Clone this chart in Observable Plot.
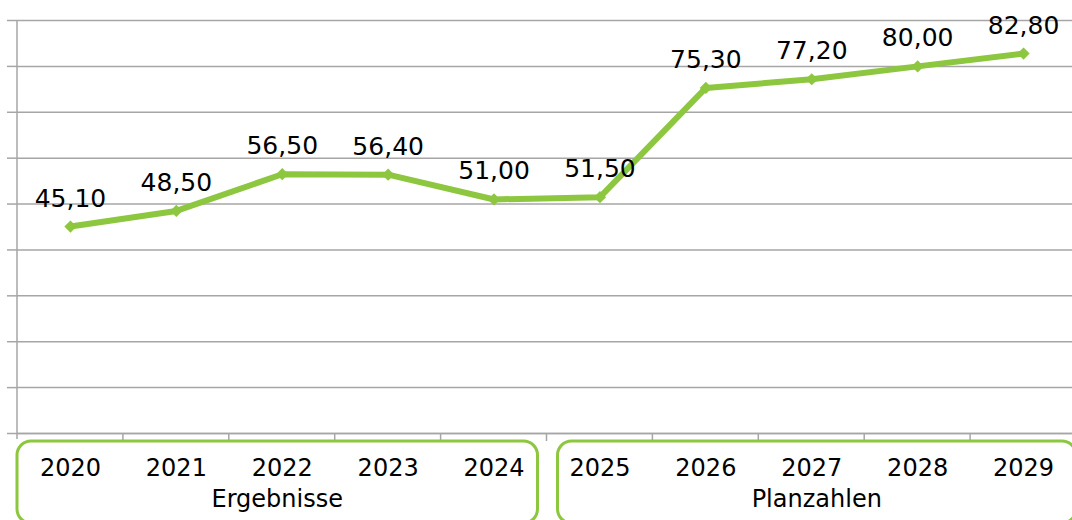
<!DOCTYPE html>
<html>
<head>
<meta charset="utf-8">
<script src="https://cdn.jsdelivr.net/npm/d3@7"></script>
<script src="https://cdn.jsdelivr.net/npm/@observablehq/plot@0.6"></script>
<style>
  html, body { margin: 0; padding: 0; background: #fff; }
  #chart svg { display: block; }
</style>
</head>
<body>
<div id="chart"></div>
<script>
// ---- data ----
const years = ["2020", "2021", "2022", "2023", "2024", "2025", "2026", "2027", "2028", "2029"];
const values = [45.10, 48.50, 56.50, 56.40, 51.00, 51.50, 75.30, 77.20, 80.00, 82.80];
const groupLabels = ["Ergebnisse", "Planzahlen"];
const groupFirst = ["2020", "2025"];
const groupLast = ["2024", "2029"];
const yTicks = [0, 10, 20, 30, 40, 50, 60, 70, 80, 90];

const data = years.map((year, i) => ({year, value: values[i]}));
const fmt = v => v.toFixed(2).replace(".", ",");

const green = "#8DC63F";
const grid = "#a6a6a6";
const font = "'DejaVu Sans', Verdana, sans-serif";

const chart = Plot.plot({
  width: 1072,
  height: 520,
  marginLeft: 17,
  marginRight: -4,
  marginTop: 20,
  marginBottom: 87,
  style: {fontFamily: font, background: "white", overflow: "visible"},
  x: {type: "band", domain: years, padding: 0, round: false, label: null},
  y: {domain: [0, 90], label: null},
  marks: [
    Plot.gridY(yTicks, {stroke: grid, strokeOpacity: 1, strokeWidth: 1.5}),
    Plot.axisY(yTicks, {tickSize: 10, tickFormat: () => "", stroke: grid, strokeWidth: 1.5, label: null}),
    Plot.ruleY([0], {stroke: grid, strokeWidth: 1.5}),
    Plot.axisX({tickSize: 0, tickPadding: 25, fontSize: 24, fill: "#000", label: null}),
    Plot.line(data, {x: "year", y: "value", stroke: green, strokeWidth: 6}),
    Plot.dot(data, {x: "year", y: "value", symbol: "diamond2", r: 5.5, fill: green, stroke: "none"}),
    Plot.text(data, {x: "year", y: "value", text: d => fmt(d.value), lineAnchor: "bottom", dy: -20, fontSize: 25, fill: "#000"})
  ]
});

document.getElementById("chart").appendChild(chart);

// ---- decorations derived from the scales ----
const sx = chart.scale("x");
const sy = chart.scale("y");
const bw = sx.bandwidth;
const y0 = sy.apply(0);
const yTop = sy.apply(90);
const svg = d3.select(chart);
const deco = svg.append("g");

// vertical axis line
const xLeft = sx.apply(years[0]);
deco.append("line")
  .attr("x1", xLeft).attr("x2", xLeft)
  .attr("y1", yTop).attr("y2", y0 + 6)
  .attr("stroke", grid).attr("stroke-width", 1.5);

// boundary ticks below the axis
years.forEach((yr, i) => {
  if (i === 0) return;
  const bx = sx.apply(yr);
  deco.append("line")
    .attr("x1", bx).attr("x2", bx)
    .attr("y1", y0).attr("y2", y0 + 8)
    .attr("stroke", grid).attr("stroke-width", 1.5);
});

// group boxes and labels
groupLabels.forEach((label, i) => {
  const left = sx.apply(groupFirst[i]) + (i === 0 ? 0 : 11);
  const right = sx.apply(groupLast[i]) + bw - (i === 0 ? 9 : 0);
  deco.append("rect")
    .attr("x", left).attr("y", y0 + 8)
    .attr("width", right - left).attr("height", 82)
    .attr("rx", 14).attr("ry", 14)
    .attr("fill", "none").attr("stroke", green).attr("stroke-width", 3);
  deco.append("text")
    .attr("x", (left + right) / 2).attr("y", y0 + 74)
    .attr("text-anchor", "middle")
    .attr("font-size", 24)
    .attr("font-family", font)
    .attr("fill", "#000")
    .text(label);
});
</script>
</body>
</html>
